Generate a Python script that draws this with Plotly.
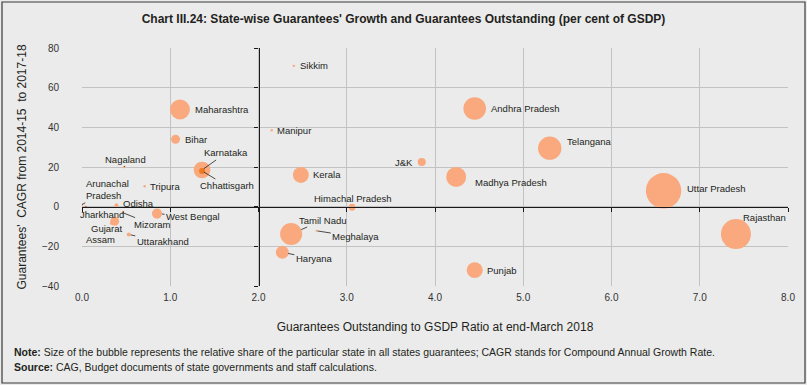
import plotly.graph_objects as go

# ---------------- data ----------------
states = ["Sikkim", "Maharashtra", "Manipur", "Bihar", "Andhra Pradesh", "Telangana",
          "Karnataka", "Chhattisgarh", "Nagaland", "J&K", "Kerala", "Madhya Pradesh",
          "Uttar Pradesh", "Tripura", "Arunachal Pradesh", "Odisha", "Jharkhand",
          "Himachal Pradesh", "West Bengal", "Mizoram", "Gujarat", "Assam", "Uttarakhand",
          "Tamil Nadu", "Meghalaya", "Haryana", "Punjab", "Rajasthan"]
# Guarantees outstanding to GSDP ratio, end-March 2018 (per cent)
gto_ratio = [2.40, 1.11, 2.15, 1.06, 4.45, 5.30,
             1.36, 1.36, 0.48, 3.85, 2.48, 4.24,
             6.59, 0.71, 0.00, 0.39, 0.04,
             3.06, 0.85, 0.46, 0.37, 0.33, 0.53,
             2.37, 2.66, 2.27, 4.45, 7.41]
# Guarantees' CAGR 2014-15 to 2017-18 (per cent)
cagr = [71.0, 49.0, 38.5, 34.0, 49.5, 29.5,
        18.5, 18.0, 20.0, 22.5, 16.0, 15.0,
        8.0, 10.3, 1.0, 0.7, 0.0,
        -0.3, -3.5, -3.0, -7.4, -8.5, -14.0,
        -13.8, -12.2, -23.0, -32.0, -13.8]
# relative share in all states' guarantees (per cent) -> bubble area
share = [0.07, 6.7, 0.07, 1.35, 8.6, 9.2,
         4.7, 0.6, 0.07, 1.1, 4.3, 6.7,
         21.1, 0.07, 0.07, 0.27, 0.07,
         0.8, 1.7, 0.07, 1.35, 0.07, 0.27,
         8.2, 0.07, 2.8, 4.3, 15.2]

x_ticks = [0, 1, 2, 3, 4, 5, 6, 7, 8]
x_ticklabels = ["0.0", "1.0", "2.0", "3.0", "4.0", "5.0", "6.0", "7.0", "8.0"]
y_ticks = [-40, -20, 0, 20, 40, 60, 80]

title = "Chart III.24: State-wise Guarantees' Growth and Guarantees Outstanding (per cent of GSDP)"
x_title = "Guarantees Outstanding to GSDP Ratio at end-March 2018"
y_title = "Guarantees'  CAGR from 2014-15  to 2017-18"
note = ("<b>Note:</b> Size of the bubble represents the relative share of the particular state "
        "in all states guarantees; CAGR stands for Compound Annual Growth Rate.")
source = "<b>Source:</b> CAG, Budget documents of state governments and staff calculations."

# ---------------- styling ----------------
W, H = 807, 385
ML, MR, MT, MB = 82, 19, 48, 99
PW, PH = W - ML - MR, H - MT - MB
BG = "#ebebeb"
BUBBLE = "#f9a97d"
DARK_BUBBLE = "#ef7b1f"
TXT = "#231f20"
FONT = "Liberation Sans, Arial, sans-serif"

colors = [DARK_BUBBLE if s == "Chhattisgarh" else BUBBLE for s in states]

# label placement: (mode, a, b) ; mode 'r' = right text (xshift, yshift),
# 'c' = centered text (xshift, yshift), 'l' = right-anchored text, 'a' = leader (ax, ay, standoff)
label_pos = {
    "Sikkim": ("r", 4, 0), "Maharashtra": ("r", 13, 0), "Manipur": ("r", 3, 0),
    "Bihar": ("r", 7, 0), "Andhra Pradesh": ("r", 14, 0), "Telangana": ("r", 15, 7),
    "Karnataka": ("a", 24, -17, 2), "Chhattisgarh": ("a", 25, 15, 2),
    "Nagaland": ("a", 1, -8, 0), "J&K": ("l", -7, 0), "Kerala": ("r", 10, 0),
    "Madhya Pradesh": ("r", 17, -6), "Uttar Pradesh": ("r", 21, 2), "Tripura": ("r", 3, 0),
    "Arunachal Pradesh": ("a", 25, -15, 0), "Odisha": ("r", 5, 2),
    "Jharkhand": ("a", 16, 8, 0), "Himachal Pradesh": ("c", 1, 9),
    "West Bengal": ("a", 36, 3, 5), "Mizoram": ("a", 30, 12, 0), "Gujarat": ("c", -8, -7.5),
    "Assam": ("c", -11, -15.5), "Uttarakhand": ("a", 34, 7.5, 2),
    "Tamil Nadu": ("a", 32, -14, 11), "Meghalaya": ("a", 39, 6, 1),
    "Haryana": ("a", 32, 6.5, 6), "Punjab": ("r", 10, 0), "Rajasthan": ("r", 5, 17),
}

fig = go.Figure()
fig.add_trace(go.Scatter(
    x=gto_ratio, y=cagr, mode="markers", text=states, hoverinfo="text",
    marker=dict(size=share, sizemode="area", sizeref=1 / (2 * 3.85 ** 2), sizemin=1.2,
                color=colors, line=dict(width=0), opacity=1),
    showlegend=False, xaxis="x", yaxis="y"))
# helper trace so the crossing axes (at x=2 and y=0) are drawn
fig.add_trace(go.Scatter(x=[None], y=[None], xaxis="x2", yaxis="y2",
                         showlegend=False, hoverinfo="skip"))

annotations = []
for s, xv, yv in zip(states, gto_ratio, cagr):
    p = label_pos[s]
    txt = "Arunachal<br>Pradesh" if s == "Arunachal Pradesh" else s
    base = dict(x=xv, y=yv, xref="x", yref="y", text=txt,
                font=dict(family=FONT, size=9.5, color=TXT))
    if p[0] == "a":
        base.update(showarrow=True, ax=p[1], ay=p[2], arrowhead=0, arrowwidth=0.8,
                    arrowcolor=TXT, standoff=p[3], align="left")
    else:
        anchor = {"r": "left", "c": "center", "l": "right"}[p[0]]
        base.update(showarrow=False, xanchor=anchor, yanchor="middle",
                    xshift=p[1], yshift=p[2])
    annotations.append(base)

def px_to_paper_x(px):
    return (px - ML) / PW

def px_to_paper_y(py):
    return (H - MB - py) / PH

annotations.append(dict(xref="paper", yref="paper", x=px_to_paper_x(12), y=px_to_paper_y(352),
                        xanchor="left", yanchor="middle", showarrow=False, text=note,
                        font=dict(family=FONT, size=10.5, color=TXT)))
annotations.append(dict(xref="paper", yref="paper", x=px_to_paper_x(12), y=px_to_paper_y(367),
                        xanchor="left", yanchor="middle", showarrow=False, text=source,
                        font=dict(family=FONT, size=10.5, color=TXT)))

fig.update_layout(
    width=W, height=H, autosize=False,
    margin=dict(l=ML, r=MR, t=MT, b=MB, pad=0),
    paper_bgcolor=BG, plot_bgcolor=BG,
    title=dict(text="<b>" + title + "</b>", x=0.5, xref="container", xanchor="center",
               y=1 - 19 / H, yref="container", yanchor="middle",
               font=dict(family=FONT, size=12, color=TXT)),
    xaxis=dict(range=[0, 8], tickvals=x_ticks, ticktext=x_ticklabels, showgrid=True,
               gridcolor="#c2c2c2", gridwidth=1, zeroline=False, showline=False, ticks="",
               ticklabelstandoff=4,
               tickfont=dict(family=FONT, size=10, color="#333333"),
               title=dict(text=x_title, font=dict(family=FONT, size=12, color=TXT), standoff=20)),
    yaxis=dict(range=[-40, 80], tickvals=y_ticks, showgrid=True, gridcolor="#c2c2c2",
               gridwidth=1, zeroline=False, showline=False, ticks="",
               ticklabelstandoff=22,
               tickfont=dict(family=FONT, size=10, color="#333333"),
               title=dict(text=y_title, font=dict(family=FONT, size=12, color=TXT), standoff=12)),
    xaxis2=dict(range=[0, 8], overlaying="x", anchor="free", position=(0 - (-40)) / 120,
                tickvals=x_ticks, showticklabels=False, showgrid=False, zeroline=False,
                showline=True, linecolor="#1a1a1a", linewidth=1.2, ticks="outside",
                ticklen=4, tickcolor="#1a1a1a", tickwidth=1.2),
    yaxis2=dict(range=[-40, 80], overlaying="y", anchor="free", position=(2 - 0) / 8,
                tickvals=y_ticks, showticklabels=False, showgrid=False, zeroline=False,
                showline=True, linecolor="#1a1a1a", linewidth=1.2, ticks="outside",
                ticklen=4, tickcolor="#1a1a1a", tickwidth=1.2, side="left"),
    annotations=annotations,
    shapes=[dict(type="rect", xref="paper", yref="paper",
                 x0=px_to_paper_x(2), x1=px_to_paper_x(805),
                 y0=px_to_paper_y(383), y1=px_to_paper_y(2),
                 line=dict(color="#3a3a3a", width=1.2), fillcolor="rgba(0,0,0,0)",
                 layer="below")],
)

fig.write_html("out.html", config={"displayModeBar": False},
               post_script="document.body.style.margin='0px';"
                           "document.body.style.padding='0px';"
                           "document.body.style.overflow='hidden';")
